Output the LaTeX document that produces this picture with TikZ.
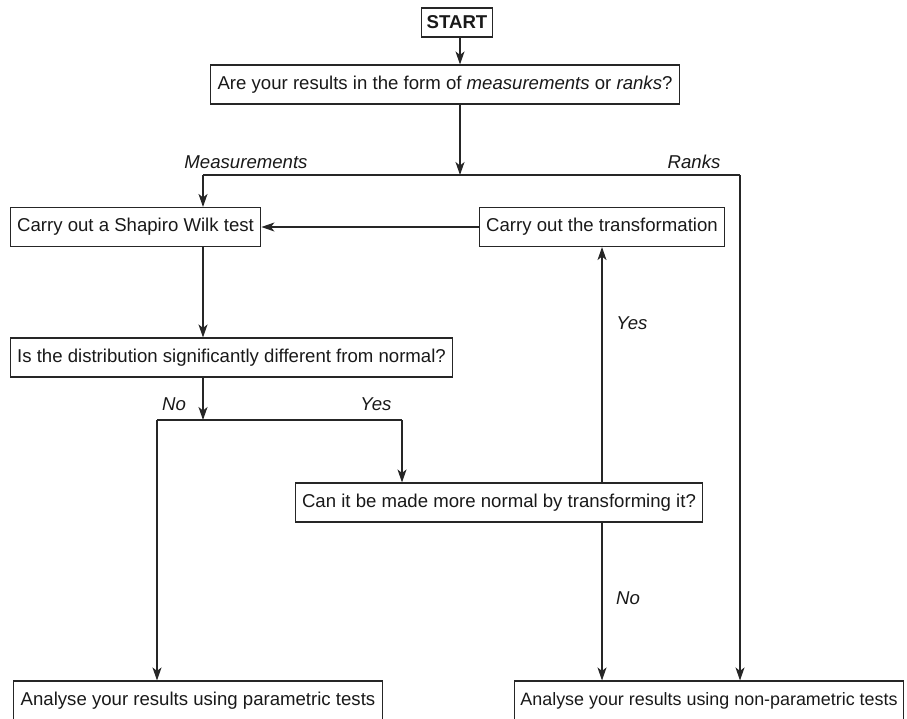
\documentclass[tikz,border=0pt]{standalone}
\usepackage{fontspec}
\setmainfont{Liberation Sans}
\usetikzlibrary{arrows.meta}

\tikzset{
  box/.style={draw=black!85, line width=1.1pt, inner xsep=7pt, inner ysep=0pt,
    minimum height=39pt, text=black!90},
  lab/.style={font=\fontsize{18.6}{22}\selectfont\itshape, text=black!90, inner sep=0pt},
}

\begin{document}
\begin{tikzpicture}[x=1pt,y=-1pt, line width=1.2pt, draw=black!85,
  >={Stealth[length=13pt,width=9pt,inset=3.5pt]},
  every node/.append style={font=\fontsize{18.6}{22}\selectfont}]
\useasboundingbox (0,0) rectangle (907,718);

% boxes
\node[box, minimum height=29pt, inner xsep=5pt, font=\fontsize{18.6}{22}\selectfont\bfseries] (start) at (457,22.5) {START};
\node[box] (q1) at (445,84.5) {Are your results in the form of \textit{measurements} or \textit{ranks}?};
\node[box] (sw) at (135.5,227) {Carry out a Shapiro Wilk test};
\node[box] (trans) at (602,227) {Carry out the transformation};
\node[box] (dist) at (231.5,357.5) {Is the distribution significantly different from normal?};
\node[box] (make) at (499,502.5) {Can it be made more normal by transforming it?};
\node[box] (par) at (198,700.5) {Analyse your results using parametric tests};
\node[box, inner xsep=6pt, font=\fontsize{17.9}{22}\selectfont] (nonpar) at (709,700.5) {Analyse your results using non-parametric tests};

% junctions
\coordinate (top) at (460,175);
\coordinate (meas) at (203,175);
\coordinate (rank) at (740,175);
\coordinate (fork) at (203,420);
\coordinate (no) at (157,420);
\coordinate (yes) at (402,420);

\draw[->] (start.south -| top) -- (q1.north -| top);
\draw[->] (q1.south -| top) -- (top);
\draw (meas) -- (rank);
\draw[->] (meas) -- (meas |- sw.north);
\draw[->] (rank) -- (rank |- nonpar.north);
\draw[->] (trans) -- (sw);
\draw[->] (sw.south -| meas) -- (dist.north -| meas);
\draw[->] (dist.south -| fork) -- (fork);
\draw (no) -- (yes);
\draw[->] (no) -- (no |- par.north);
\draw[->] (yes) -- (yes |- make.north);
\draw[->] (make.north -| trans) -- (trans.south);
\draw[->] (make.south -| trans) -- (trans |- nonpar.north);

% labels
\node[lab] (lmeas) at (246,162) {Measurements};
\node[lab] (lrank) at (694,162) {Ranks};
\node[lab] (lno1) at (174,404) {No};
\node[lab] (lyes1) at (376,404) {Yes};
\node[lab] (lyes2) at (632,323) {Yes};
\node[lab] (lno2) at (628,598) {No};
\end{tikzpicture}
\end{document}
